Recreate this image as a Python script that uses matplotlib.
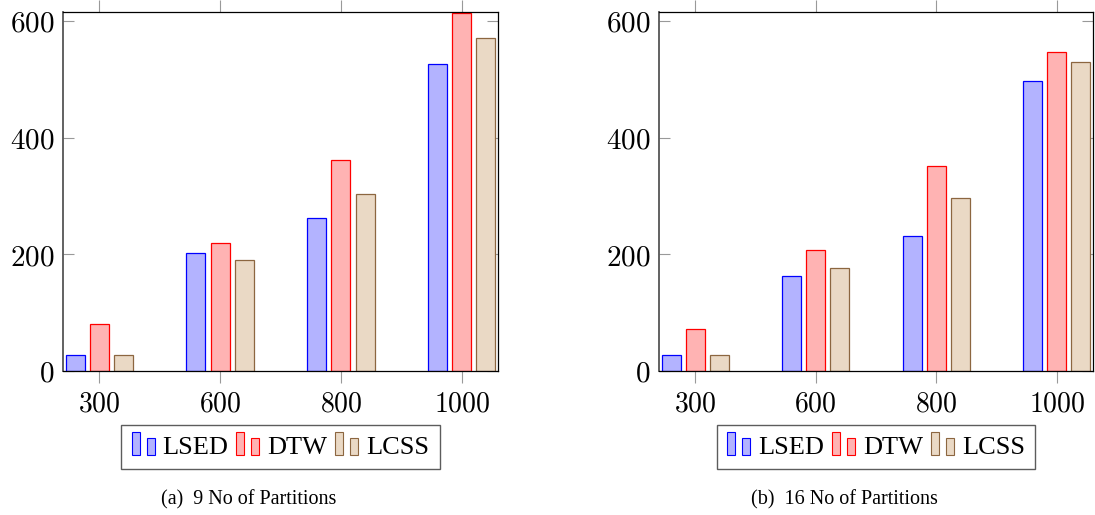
import matplotlib
matplotlib.use("Agg")
import matplotlib.pyplot as plt
import numpy as np
from matplotlib.legend_handler import HandlerBase
from matplotlib.patches import Rectangle

categories = ["300", "600", "800", "1000"]
series = ["LSED", "DTW", "LCSS"]

lsed_9 = [28, 203, 262, 526]
dtw_9 = [80, 220, 362, 613]
lcss_9 = [28, 190, 304, 571]

lsed_16 = [28, 162, 231, 497]
dtw_16 = [72, 207, 351, 547]
lcss_16 = [28, 177, 297, 529]

yticks = [0, 200, 400, 600]
captions = ["(a)  9 No of Partitions", "(b)  16 No of Partitions"]

fills = ["#b3b3ff", "#ffb3b3", "#ead9c5"]
edges = ["#0000ff", "#ff0000", "#8c6640"]

plt.rcParams['mathtext.fontset'] = 'cm'

fig = plt.figure(figsize=(10.95, 5.15), dpi=100)
W, H = 1095, 515
axes_px = [(63, 498), (659, 1093)]
top_px, bot_px = 12, 371
PX = 0.72  # points per pixel


class BarPairHandler(HandlerBase):
    def create_artists(self, legend, orig_handle, xdescent, ydescent,
                       width, height, fontsize, trans):
        fc = orig_handle.get_facecolor()
        ec = orig_handle.get_edgecolor()
        bw = 8 * PX
        gap = 7 * PX
        y0 = -ydescent - 1 * PX
        r1 = Rectangle((-xdescent, y0), bw, 23 * PX, facecolor=fc, edgecolor=ec,
                       linewidth=0.8, transform=trans)
        r2 = Rectangle((-xdescent + bw + gap, y0), bw, 17 * PX, facecolor=fc,
                       edgecolor=ec, linewidth=0.8, transform=trans)
        return [r1, r2]


datasets = [(lsed_9, dtw_9, lcss_9), (lsed_16, dtw_16, lcss_16)]
x = np.arange(len(categories))
bw = 0.157
offs = [-0.2, 0.0, 0.2]

for i, data in enumerate(datasets):
    l, r = axes_px[i]
    ax = fig.add_axes([l / W, 1 - bot_px / H, (r - l) / W, (bot_px - top_px) / H])
    handles = []
    for j, vals in enumerate(data):
        b = ax.bar(x + offs[j], vals, width=bw, facecolor=fills[j],
                   edgecolor=edges[j], linewidth=0.9, label=series[j], zorder=2)
        handles.append(b.patches[0])
    ax.set_xlim(-0.3, 3.3)
    ax.set_ylim(0, 615)
    ax.set_xticks(x)
    ax.set_xticklabels([f"${c}$" for c in categories], fontsize=20)
    ax.set_yticks(yticks)
    ax.set_yticklabels([f"${v}$" for v in yticks], fontsize=21)
    ax.tick_params(axis='x', direction='out', length=8.5, width=0.8,
                   color='#999999', top=True, bottom=True, pad=5)
    ax.tick_params(axis='y', direction='in', length=8, width=0.8,
                   color='#999999', left=True, right=True, pad=6)
    for s in ax.spines.values():
        s.set_linewidth(0.9)
        s.set_color('black')
    ax.spines['left'].set_color('#555555')
    ax.spines['left'].set_linewidth(1.3)
    leg = ax.legend(handles, series, loc='upper center',
                    bbox_to_anchor=(0.5, -0.15), ncol=3, borderaxespad=0,
                    handler_map={Rectangle: BarPairHandler()},
                    prop={'family': 'Liberation Serif', 'size': 19},
                    handlelength=(23 * PX) / 19, handletextpad=0.3,
                    columnspacing=0.3, borderpad=0.4,
                    fancybox=False, frameon=True)
    leg.get_frame().set_edgecolor('#333333')
    leg.get_frame().set_linewidth(1.0)

fig.text(249 / W, 1 - 500 / H, captions[0], ha='center', va='center',
         family='Liberation Serif', fontsize=14.5)
fig.text(844 / W, 1 - 500 / H, captions[1], ha='center', va='center',
         family='Liberation Serif', fontsize=14.5)

fig.savefig("out.png", dpi=100)
